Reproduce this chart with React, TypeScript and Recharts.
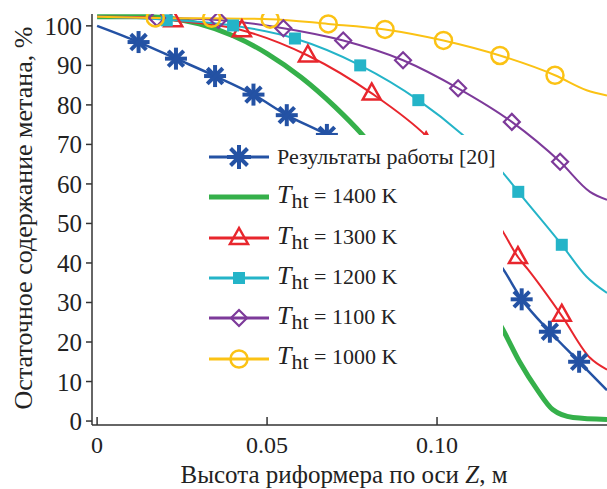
import { ComposedChart, Line, Scatter, XAxis, YAxis, Legend, Label } from 'recharts';

// readings from the figure: [z, residual methane %]
const xTicks = [0, 0.05, 0.1];
const yTicks = [0, 10, 20, 30, 40, 50, 60, 70, 80, 90, 100];

const refCurve = [[0, 100], [0.0122, 95.9], [0.0232, 91.7], [0.0347, 87.3], [0.046, 82.6], [0.0558, 77.4], [0.0676, 72.4], [0.094, 56], [0.1194, 38.5], [0.1249, 30.8], [0.1332, 22.6], [0.1418, 15], [0.15, 7.8]];
const refMarks = [[0.0122, 95.9], [0.0232, 91.7], [0.0347, 87.3], [0.046, 82.6], [0.0558, 77.4], [0.0676, 72.4], [0.1249, 30.8], [0.1332, 22.6], [0.1418, 15]];

const t1400Curve = [[0, 102.3], [0.015, 102.3], [0.0224, 101.8], [0.03, 100.5], [0.04, 97.5], [0.05, 93], [0.06, 87], [0.07, 79.5], [0.0782, 72.3], [0.1, 47], [0.1194, 23.1], [0.1244, 14.8], [0.1294, 8], [0.134, 2.9], [0.14, 0.9], [0.15, 0.4]];

const t1300Curve = [[0, 102.3], [0.015, 102.2], [0.0224, 101.4], [0.0426, 98.9], [0.062, 92.5], [0.0808, 82.9], [0.097, 72], [0.1194, 47.9], [0.1238, 41.5], [0.1268, 38.3], [0.1368, 26.5], [0.145, 16], [0.15, 13]];
const t1300Marks = [[0.0224, 101.4], [0.0426, 98.9], [0.062, 92.5], [0.0808, 82.9], [0.0968, 70.5], [0.1238, 41.5], [0.1367, 26.9]];

const t1200Curve = [[0, 102.3], [0.02, 101.6], [0.04, 100.1], [0.0582, 96.8], [0.0774, 90], [0.0945, 81.2], [0.1076, 72.4], [0.1194, 62.8], [0.1239, 58], [0.1367, 44.6], [0.144, 36.5], [0.15, 32.4]];
const t1200Marks = [[0.0205, 101.4], [0.04, 100.1], [0.0582, 96.8], [0.0774, 90], [0.0945, 81.2], [0.1239, 58], [0.1367, 44.6]];

const t1100Curve = [[0, 102.3], [0.0176, 102], [0.0357, 101.5], [0.0548, 99.4], [0.0724, 96.3], [0.09, 91.3], [0.1062, 84.2], [0.122, 75.7], [0.1362, 65.6], [0.145, 58], [0.15, 56]];
const t1100Marks = [[0.0176, 102], [0.0357, 101.5], [0.0548, 99.4], [0.0724, 96.3], [0.09, 91.3], [0.1062, 84.2], [0.122, 75.7], [0.1362, 65.6]];

const t1000Curve = [[0, 102.3], [0.0171, 102], [0.0337, 101.9], [0.0509, 101.7], [0.068, 100.5], [0.0847, 99.1], [0.1019, 96.3], [0.1185, 92.5], [0.1347, 87.5], [0.144, 83.7], [0.15, 82.4]];
const t1000Marks = [[0.0171, 102], [0.0337, 101.9], [0.0509, 101.7], [0.068, 100.5], [0.0847, 99.1], [0.1019, 96.3], [0.1185, 92.5], [0.1347, 87.5]];

const FONT = "'Liberation Serif', 'DejaVu Serif Condensed', 'DejaVu Serif', serif";
const AXIS = '#333';

const toPts = (arr: number[][]) => arr.map(([x, y]) => ({ x, y }));

type Kind = 'star' | 'none' | 'triangle' | 'square' | 'diamond' | 'circle';

const series: { key: string; temp?: string; label?: string; color: string; width: number; kind: Kind; curve: number[][]; marks: number[][] }[] = [
  { key: 'ref', label: 'Результаты работы [20]', color: '#2452a4', width: 2.5, kind: 'star', curve: refCurve, marks: refMarks },
  { key: 't1400', temp: '1400', color: '#35b04a', width: 5, kind: 'none', curve: t1400Curve, marks: [] },
  { key: 't1300', temp: '1300', color: '#e8262d', width: 2, kind: 'triangle', curve: t1300Curve, marks: t1300Marks },
  { key: 't1200', temp: '1200', color: '#24b4c8', width: 2, kind: 'square', curve: t1200Curve, marks: t1200Marks },
  { key: 't1100', temp: '1100', color: '#7d3a9a', width: 2, kind: 'diamond', curve: t1100Curve, marks: t1100Marks },
  { key: 't1000', temp: '1000', color: '#fbc214', width: 2, kind: 'circle', curve: t1000Curve, marks: t1000Marks },
];

function Marker({ kind, cx, cy, color, big }: { kind: Kind; cx: number; cy: number; color: string; big?: boolean }) {
  if (kind === 'star') {
    const r = big ? 12 : 11;
    return (
      <g stroke={color} strokeWidth={4} strokeLinecap="butt">
        {[0, 45, 90, 135].map((a) => {
          const dx = r * Math.cos((a * Math.PI) / 180);
          const dy = r * Math.sin((a * Math.PI) / 180);
          return <line key={a} x1={cx - dx} y1={cy - dy} x2={cx + dx} y2={cy + dy} />;
        })}
      </g>
    );
  }
  if (kind === 'triangle')
    return <polygon points={`${cx},${cy - 10} ${cx - 9},${cy + 6} ${cx + 9},${cy + 6}`} fill="none" stroke={color} strokeWidth={2.5} />;
  if (kind === 'square') return <rect x={cx - 6} y={cy - 6} width={12} height={12} fill={color} />;
  if (kind === 'diamond')
    return <polygon points={`${cx},${cy - 8} ${cx + 8},${cy} ${cx},${cy + 8} ${cx - 8},${cy}`} fill="none" stroke={color} strokeWidth={2.2} />;
  if (kind === 'circle') return <circle cx={cx} cy={cy} r={8.5} fill="none" stroke={color} strokeWidth={2.5} />;
  return null;
}

const XTick = ({ x, y, payload }: any) => (
  <g>
    <line x1={x} y1={y} x2={x} y2={y - 8} stroke={AXIS} strokeWidth={1.5} />
    <text x={x} y={y + 28} textAnchor="middle" style={{ fontFamily: FONT }} fontSize={24} fill="#222">
      {payload.value === 0 ? '0' : payload.value.toFixed(2)}
    </text>
  </g>
);

const YTick = ({ x, y, payload }: any) => (
  <g>
    <line x1={x - 6} y1={y} x2={x} y2={y} stroke={AXIS} strokeWidth={1.5} />
    <text x={x - 10} y={y + 9} textAnchor="end" style={{ fontFamily: FONT }} fontSize={25} fill="#222">
      {payload.value}
    </text>
  </g>
);

const renderLegend = () => (
  <div style={{ paddingTop: 2, paddingLeft: 9, fontFamily: FONT, fontSize: 22, color: '#222', whiteSpace: 'nowrap' }}>
    {series.map((s) => (
      <div key={s.key} style={{ display: 'flex', alignItems: 'center', height: 40.3 }}>
        <svg width={60} height={30} style={{ marginRight: 8 }}>
          <line x1={0} y1={15} x2={60} y2={15} stroke={s.color} strokeWidth={s.kind === 'none' ? 5 : 3} />
          <Marker kind={s.kind} cx={30} cy={15} color={s.color} big />
        </svg>
        {s.label ? (
          <span>{s.label}</span>
        ) : (
          <span>
            <i style={{ fontSize: 26 }}>T</i>
            <sub style={{ fontSize: 22 }}>ht</sub> = {s.temp} K
          </span>
        )}
      </div>
    ))}
  </div>
);

export default function App() {
  return (
    <div style={{ position: 'absolute', left: 0, top: 0 }}>
      <ComposedChart width={607} height={489} margin={{ top: 14, right: 0, bottom: 0, left: 0 }}>
        <XAxis
          type="number"
          dataKey="x"
          domain={[-0.0015, 0.15]}
          ticks={xTicks}
          allowDataOverflow
          height={64}
          stroke={AXIS}
          strokeWidth={1.5}
          tickLine={false}
          tickSize={0}
          tickMargin={0}
          tick={<XTick />}
        >
          <Label
            content={() => (
              <text x={344} y={483} textAnchor="middle" style={{ fontFamily: FONT }} fontSize={25} fill="#222">
                Высота риформера по оси <tspan fontStyle="italic">Z</tspan>, м
              </text>
            )}
          />
        </XAxis>
        <YAxis
          type="number"
          domain={[-1, 103]}
          ticks={yTicks}
          allowDataOverflow
          width={92}
          stroke={AXIS}
          strokeWidth={1.5}
          tickLine={false}
          tickSize={0}
          tickMargin={0}
          tick={<YTick />}
        >
          <Label
            content={() => (
              <text x={32} y={218} transform="rotate(-90, 32, 218)" textAnchor="middle" style={{ fontFamily: FONT }} fontSize={26} fill="#222">
                Остаточное содержание метана, %
              </text>
            )}
          />
        </YAxis>
        {series.map((s) => (
          <Line
            key={s.key}
            data={toPts(s.curve)}
            dataKey="y"
            type="monotone"
            stroke={s.color}
            strokeWidth={s.width}
            dot={false}
            activeDot={false}
            isAnimationActive={false}
          />
        ))}
        {series
          .filter((s) => s.marks.length > 0)
          .map((s) => (
            <Scatter
              key={s.key + '-m'}
              data={toPts(s.marks)}
              dataKey="y"
              isAnimationActive={false}
              shape={(p: any) => <Marker kind={s.kind} cx={p.cx} cy={p.cy} color={s.color} />}
            />
          ))}
        <Legend
          layout="vertical"
          align="center"
          verticalAlign="middle"
          content={renderLegend}
          wrapperStyle={{ left: 200, top: 135, width: 303, height: 262, backgroundColor: '#fff' }}
        />
      </ComposedChart>
    </div>
  );
}
